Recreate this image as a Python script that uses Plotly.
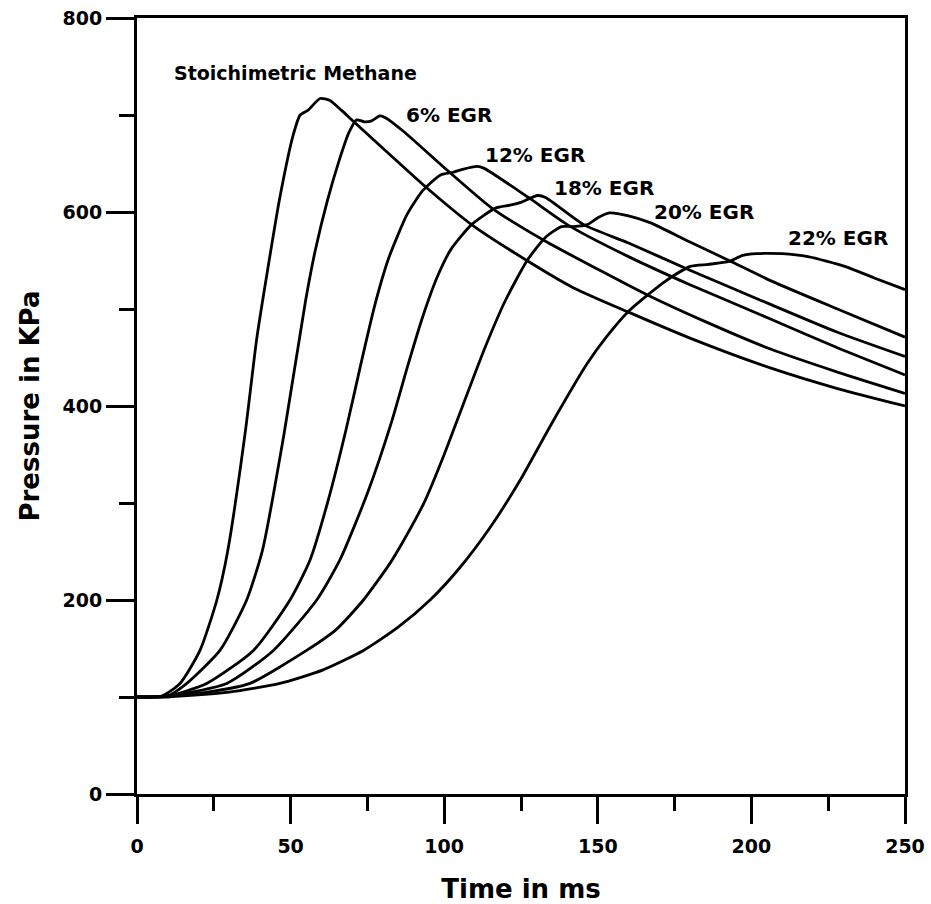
import plotly.graph_objects as go

# ---- data (time in ms, pressure in kPa) ----
t_stoich = [0, 8, 14, 20.5, 26, 29.5, 35.2, 39, 42.5, 46.5, 50.9, 53.1, 55.7, 59.6, 62.8, 66.5, 70.6, 82, 93.9, 108.9, 126.9, 142, 159.8, 180, 206.4, 228, 250]
p_stoich = [100, 101, 114, 148, 200, 250, 372, 470, 540, 615, 680, 700, 705, 717, 715, 705, 693, 660, 626, 587, 550, 522, 497, 470, 439, 418, 400]

t_egr6 = [0, 10, 16.2, 27, 35.7, 40.9, 47.9, 54.9, 58, 62, 66, 69, 71.5, 74, 76.4, 79, 81, 86.8, 101, 115.5, 133.4, 150, 165.8, 185, 206, 228, 250]
p_egr6 = [100, 101, 114, 148, 200, 252, 372, 509, 560, 612, 655, 682, 695, 693, 694, 699, 697, 683, 643, 604, 569, 541, 515, 487, 459, 435, 413]

t_egr12 = [0, 10, 22.7, 37.9, 49.8, 56.3, 62, 68, 73, 77.5, 82, 88, 93, 98.7, 102.9, 106, 110.7, 113, 127.4, 140.6, 160, 180, 206, 228, 250]
p_egr12 = [100, 101, 114, 148, 200, 241, 300, 375, 445, 505, 553, 598, 622, 638, 641, 644, 647, 645, 615, 586, 554, 525, 490, 460, 432]

t_egr18 = [0, 10, 29.2, 44.4, 58.5, 66, 75, 83, 88, 93, 98, 102.3, 108.9, 116.7, 121.4, 125, 130.4, 133, 145.4, 160, 180, 206, 228, 250]
p_egr18 = [100, 101, 114, 148, 200, 241, 310, 385, 440, 492, 535, 562, 587, 604, 607, 610, 617, 615, 587, 568, 540, 505, 476, 451]

t_egr20 = [0, 10, 25, 36.8, 55.2, 65, 73.7, 82.4, 88, 93.7, 100, 106, 113, 119.8, 127, 133, 138.2, 142, 146.6, 150, 153.8, 160, 167, 180, 192.7, 206.4, 228, 250]
p_egr20 = [100, 101, 106, 114, 148, 170, 200, 238, 268, 302, 350, 400, 458, 508, 550, 574, 585, 585, 587, 594, 599, 596, 589, 569, 550, 529, 500, 471]

t_egr22 = [0, 10, 30, 46.5, 60.6, 73.7, 85, 95.4, 105, 115, 125, 135, 146.6, 153, 159.8, 171.7, 180.1, 186, 192.7, 197, 201.7, 210, 218.4, 230.4, 240, 250]
p_egr22 = [100, 100, 105, 114, 128, 148, 172, 200, 233, 275, 325, 382, 444, 472, 497, 528, 544, 546, 549, 555, 557, 557, 554, 544, 532, 520]

series = [
    ("Stoichimetric Methane", t_stoich, p_stoich),
    ("6% EGR", t_egr6, p_egr6),
    ("12% EGR", t_egr12, p_egr12),
    ("18% EGR", t_egr18, p_egr18),
    ("20% EGR", t_egr20, p_egr20),
    ("22% EGR", t_egr22, p_egr22),
]

# label anchor positions (data coords, left edge of text)
label_x = [11.4, 86.8, 112.5, 135.2, 167.5, 211.2]
label_y = [743, 700, 659, 625, 600, 573]
label_size = [19, 20, 20, 20, 20, 20]

FONT = "DejaVu Sans"

fig = go.Figure()
for name, t, p in series:
    fig.add_trace(go.Scatter(
        x=t, y=p, mode="lines", name=name,
        line=dict(color="black", width=2.8, shape="spline", smoothing=0.6),
        showlegend=False, hoverinfo="x+y",
    ))

for (name, _, _), lx, ly, fs in zip(series, label_x, label_y, label_size):
    fig.add_annotation(
        x=lx, y=ly, text="<b>%s</b>" % name, showarrow=False,
        xanchor="left", yanchor="middle",
        font=dict(family=FONT, size=fs, color="black"),
    )

fig.update_layout(
    width=931, height=904,
    margin=dict(l=137, r=26, t=18, b=110),
    paper_bgcolor="white", plot_bgcolor="white",
    font=dict(family=FONT, color="black"),
)

fig.update_xaxes(
    range=[0, 250], tickmode="linear", tick0=0, dtick=50,
    ticks="outside", ticklen=27, tickwidth=2.5, tickcolor="black",
    showline=True, linewidth=3, linecolor="black", mirror=True,
    showgrid=False, zeroline=False, automargin=False,
    ticklabelstandoff=6,
    tickfont=dict(family=FONT, size=19, color="black", weight="bold"),
    minor=dict(dtick=25, ticks="outside", ticklen=14, tickwidth=2.5, tickcolor="black", showgrid=False),
    title=dict(text="<b>Time in ms</b>", font=dict(family=FONT, size=26, color="black"), standoff=25),
)
fig.update_yaxes(
    range=[0, 800], tickmode="linear", tick0=0, dtick=200,
    ticks="outside", ticklen=28, tickwidth=2.5, tickcolor="black",
    showline=True, linewidth=3, linecolor="black", mirror=True,
    showgrid=False, zeroline=False, automargin=False,
    tickfont=dict(family=FONT, size=19, color="black", weight="bold"),
    minor=dict(dtick=100, ticks="outside", ticklen=15, tickwidth=2.5, tickcolor="black", showgrid=False),
    title=dict(text="<b>Pressure in KPa</b>", font=dict(family=FONT, size=26, color="black"), standoff=16),
)

fig.write_html("out.html")
